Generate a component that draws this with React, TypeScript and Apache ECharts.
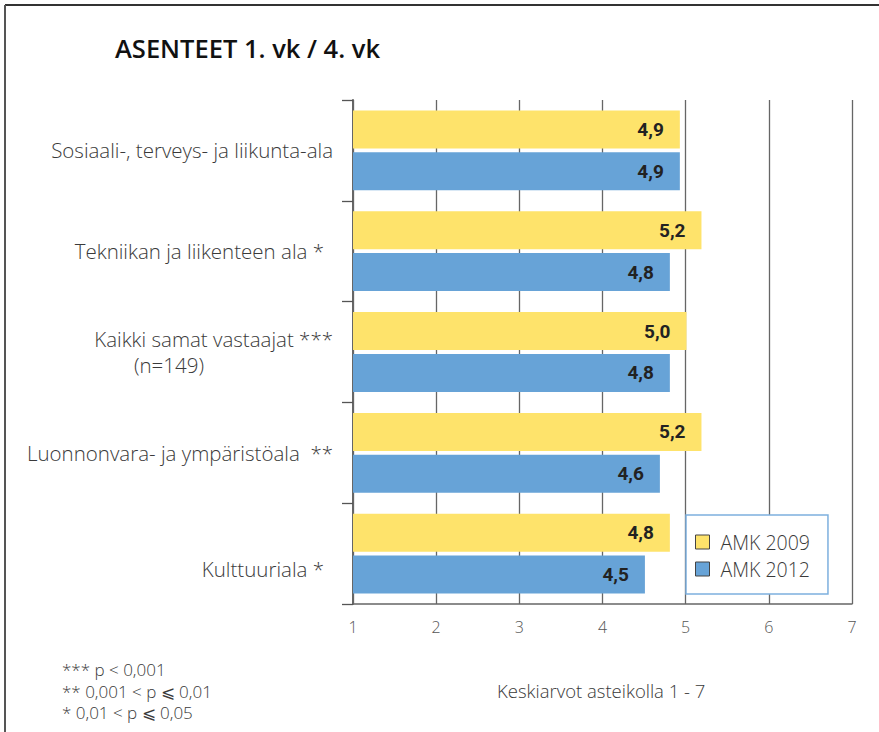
import React, { useEffect, useRef } from "react";
import * as echarts from "echarts";

const categories = [
  "Sosiaali-, terveys- ja liikunta-ala",
  "Tekniikan ja liikenteen ala *",
  "Kaikki samat vastaajat ***",
  "Luonnonvara- ja ympäristöala  **",
  "Kulttuuriala *",
];
const seriesNames = ["AMK 2009", "AMK 2012"];
const values2009 = [4.93, 5.19, 5.01, 5.19, 4.81];
const values2012 = [4.93, 4.81, 4.81, 4.69, 4.51];
const labels2009 = ["4,9", "5,2", "5,0", "5,2", "4,8"];
const labels2012 = ["4,9", "4,8", "4,8", "4,6", "4,5"];
const xTicks = [1, 2, 3, 4, 5, 6, 7];
const titleText = "ASENTEET 1. vk / 4. vk";
const footnotes = ["*** p < 0,001", "** 0,001 < p ⩽ 0,01", "* 0,01 < p ⩽ 0,05"];
const scaleNote = "Keskiarvot asteikolla 1 - 7";
const subNote = "(n=149)";

const FONT = "'Open Sans', Roboto, 'DejaVu Sans', sans-serif";
const NUMFONT = "Roboto, 'DejaVu Sans', sans-serif";
const TXT = "#3a3a3a";

export default function App() {
  const ref = useRef<HTMLDivElement>(null);
  useEffect(() => {
    if (!ref.current) return;
    const chart = echarts.init(ref.current, null, { renderer: "svg" });
    const yellow = "#FEE36B";
    const blue = "#67A3D7";
    const labelStyle = (arr: string[]) => ({
      show: true,
      position: "insideRight",
      distance: 16,
      formatter: (p: any) => arr[p.dataIndex],
      color: "#222",
      fontSize: 19,
      fontWeight: "bold",
      fontFamily: NUMFONT,
    });
    const rs = { fontSize: 20.5, color: TXT, fontFamily: FONT, fontWeight: 300 };
    chart.setOption({
      animation: false,
      backgroundColor: "#fff",
      textStyle: { fontFamily: FONT },
      title: {
        text: titleText,
        left: 115,
        top: 35,
        padding: 0,
        textStyle: { fontSize: 25.5, fontWeight: 600, color: "#111", fontFamily: FONT },
      },
      legend: {
        orient: "vertical",
        left: 686,
        top: 515,
        data: seriesNames,
        backgroundColor: "#fff",
        borderColor: "#7DB0DE",
        borderWidth: 1.5,
        borderRadius: 0,
        padding: [17, 18, 15, 9],
        itemWidth: 14,
        itemHeight: 14,
        itemGap: 7,
        icon: "rect",
        itemStyle: { borderColor: "#444", borderWidth: 1 },
        textStyle: { fontSize: 19.5, color: TXT, fontWeight: 300, fontFamily: FONT, padding: [0, 0, 0, 6] },
      },
      grid: { left: 353, top: 100, right: 27, bottom: 128, containLabel: false },
      xAxis: {
        type: "value",
        min: xTicks[0],
        max: xTicks[xTicks.length - 1],
        interval: 1,
        axisLine: { show: true, lineStyle: { color: "#666", width: 1.5 } },
        axisTick: { show: false },
        axisLabel: {
          color: "#555",
          fontSize: 16,
          margin: 15,
          fontWeight: 300,
          fontFamily: FONT,
          formatter: (v: number) => String(v),
        },
        splitLine: { show: true, lineStyle: { color: "#666", width: 1.3 } },
      },
      yAxis: {
        type: "category",
        data: categories,
        inverse: true,
        axisLine: { show: true, lineStyle: { color: "#666", width: 2 } },
        axisTick: { show: true, length: 11, lineStyle: { color: "#555", width: 1.3 } },
        axisLabel: {
          margin: 20,
          ...rs,
          formatter: (v: string, i: number) => {
            if (i === 2) return `{a|${v}}\n{b|${subNote}}`;
            if (i === 1) return `{c|${v}}`;
            if (i === 4) return `{d|${v}}`;
            return `{a|${v}}`;
          },
          rich: {
            a: { ...rs, lineHeight: 26 },
            b: { ...rs, lineHeight: 26, padding: [0, 129, 0, 0] },
            c: { ...rs, padding: [0, 9, 0, 0] },
            d: { ...rs, padding: [30, 9, 0, 0] },
          },
        },
        splitLine: { show: false },
      },
      series: [
        {
          name: seriesNames[0],
          type: "bar",
          data: values2009,
          barWidth: 38,
          barGap: "10%",
          itemStyle: { color: yellow, borderColor: "#444", borderWidth: 0 },
          label: labelStyle(labels2009),
        },
        {
          name: seriesNames[1],
          type: "bar",
          data: values2012,
          barWidth: 38,
          itemStyle: { color: blue, borderColor: "#444", borderWidth: 0 },
          label: labelStyle(labels2012),
        },
      ],
      graphic: [
        { type: "line", shape: { x1: 5, y1: 5, x2: 879, y2: 5 }, style: { stroke: "#333", lineWidth: 2 } },
        { type: "line", shape: { x1: 5, y1: 5, x2: 5, y2: 732 }, style: { stroke: "#555", lineWidth: 2 } },
        ...footnotes.map((t, i) => ({
          type: "text",
          left: 62,
          top: 661 + i * 21.5,
          style: { text: t, fontSize: 17, fill: TXT, fontWeight: 300, fontFamily: FONT },
        })),
        {
          type: "text",
          left: 497,
          top: 681,
          style: { text: scaleNote, fontSize: 18.5, fill: TXT, fontWeight: 300, fontFamily: FONT },
        },
      ],
    });
    return () => chart.dispose();
  }, []);
  return <div ref={ref} style={{ width: 879, height: 732, position: "absolute", left: 0, top: 0 }} />;
}
